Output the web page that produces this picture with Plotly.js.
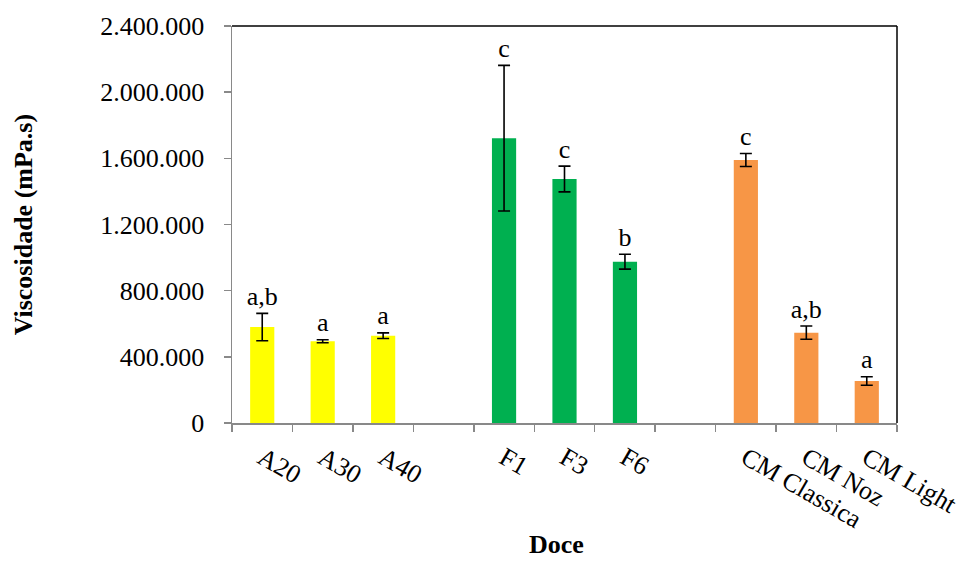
<!DOCTYPE html>
<html>
<head>
<meta charset="utf-8">
<script src="https://cdn.plot.ly/plotly-3.0.1.min.js"></script>
<style>html,body{margin:0;padding:0;background:#fff;}#chart{width:964px;height:563px;}</style>
</head>
<body>
<div id="chart"></div>
<script>
// Data
const categories = ['A20', 'A30', 'A40', ' ', 'F1', 'F3', 'F6', '  ', 'CM Classica', 'CM Noz', 'CM Light'];
const groupA = ['A20', 'A30', 'A40'];
const valuesA = [580000, 494000, 528000];
const errorsA = [83000, 9000, 17000];
const lettersA = ['a,b', 'a', 'a'];
const groupF = ['F1', 'F3', 'F6'];
const valuesF = [1722000, 1475000, 975000];
const errorsF = [440000, 78000, 45000];
const lettersF = ['c', 'c', 'b'];
const groupCM = ['CM Classica', 'CM Noz', 'CM Light'];
const valuesCM = [1590000, 546000, 254000];
const errorsCM = [39000, 40000, 26000];
const lettersCM = ['c', 'a,b', 'a'];
const yTicks = [0, 400000, 800000, 1200000, 1600000, 2000000, 2400000];

const colA = '#FFFF00', colF = '#00B050', colCM = '#F79646';
const font = 'Liberation Serif, Times New Roman, serif';
const fs = 26;

const xs = [...groupA, ...groupF, ...groupCM];
const ys = [...valuesA, ...valuesF, ...valuesCM];
const es = [...errorsA, ...errorsF, ...errorsCM];
const ls = [...lettersA, ...lettersF, ...lettersCM];
const cs = [...groupA.map(() => colA), ...groupF.map(() => colF), ...groupCM.map(() => colCM)];

const bars = {
  type: 'bar', x: xs, y: ys, width: 0.4,
  marker: {color: cs, line: {width: 0}},
  error_y: {type: 'data', array: es, visible: true, color: '#000', thickness: 1.6, width: 6},
  hoverinfo: 'none', showlegend: false
};
const letters = {
  type: 'scatter', mode: 'text', x: xs, y: ys.map((v, i) => v + es[i] + 12000), text: ls,
  textposition: 'top center', textfont: {family: font, size: fs, color: '#000'},
  hoverinfo: 'none', showlegend: false, cliponaxis: false
};

const layout = {
  width: 964, height: 563,
  margin: {l: 232, r: 67, t: 26, b: 140},
  paper_bgcolor: '#fff', plot_bgcolor: '#fff',
  separators: ',.',
  font: {family: font, size: fs, color: '#000'},
  barmode: 'overlay',
  xaxis: {
    type: 'category', categoryorder: 'array', categoryarray: categories,
    range: [-0.5, categories.length - 0.5],
    tickson: 'boundaries', ticks: 'outside', ticklen: 7, tickwidth: 1.5, tickcolor: '#898989',
    showline: true, linecolor: '#898989', linewidth: 1.5,
    showgrid: false, zeroline: false, tickangle: 30, ticklabelstandoff: 8,
    tickfont: {family: font, size: fs, color: '#000'}
  },
  yaxis: {
    range: [0, 2400000], tickvals: yTicks, tickformat: ',d',
    ticks: 'outside', ticklen: 7, tickwidth: 1.5, tickcolor: '#898989',
    showline: true, linecolor: '#898989', linewidth: 1.5,
    showgrid: false, zeroline: false, ticklabelstandoff: 14,
    tickfont: {family: font, size: fs, color: '#000'}
  },
  shapes: [
    {type: 'line', xref: 'paper', yref: 'paper', x0: 0, x1: 1, y0: 1, y1: 1, line: {color: '#000', width: 1.5}},
    {type: 'line', xref: 'paper', yref: 'paper', x0: 1, x1: 1, y0: 0, y1: 1, line: {color: '#000', width: 1.5}}
  ],
  annotations: [
    {text: '<b>Viscosidade (mPa.s)</b>', xref: 'paper', yref: 'paper', x: -0.313, y: 0.5,
     xanchor: 'center', yanchor: 'middle', textangle: -90, showarrow: false,
     font: {family: font, size: fs, color: '#000'}},
    {text: '<b>Doce</b>', xref: 'paper', yref: 'paper', x: 0.488, y: -0.305,
     xanchor: 'center', yanchor: 'middle', showarrow: false, borderpad: 0,
     font: {family: font, size: fs, color: '#000'}}
  ]
};

Plotly.newPlot('chart', [bars, letters], layout, {displayModeBar: false, staticPlot: true});
</script>
</body>
</html>
